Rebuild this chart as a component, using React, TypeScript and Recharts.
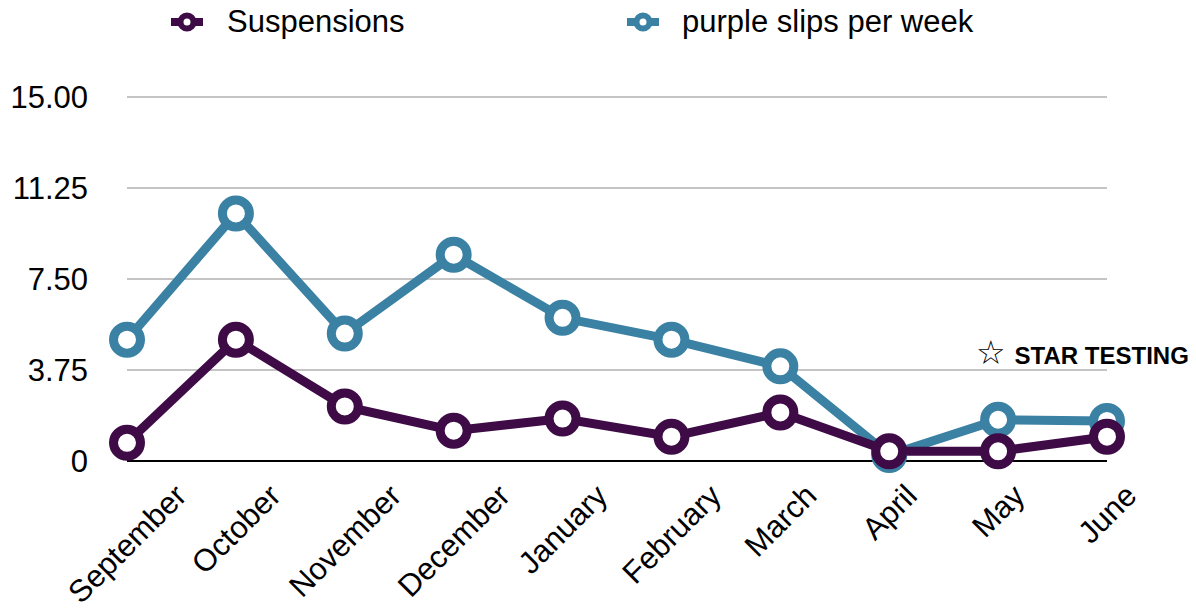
import React from 'react';
import { LineChart, Line, XAxis, YAxis, CartesianGrid } from 'recharts';

const months = ['September', 'October', 'November', 'December', 'January', 'February', 'March', 'April', 'May', 'June'];
const suspensions = [0.75, 5, 2.25, 1.25, 1.75, 1, 2, 0.4, 0.4, 1];
const purpleSlips = [5, 10.2, 5.25, 8.5, 5.9, 5, 3.9, 0.25, 1.7, 1.65];
const yTicks = [0, 3.75, 7.5, 11.25, 15];

const PURPLE = '#3E0B46';
const TEAL = '#3A81A3';
const FONT = "'Liberation Sans', Arial, Helvetica, sans-serif";

const chartData = months.map((m, i) => ({
  month: m,
  suspensions: suspensions[i],
  slips: purpleSlips[i],
}));

let ctx: CanvasRenderingContext2D | null = null;
const measure = (s: string) => {
  if (!ctx) ctx = document.createElement('canvas').getContext('2d');
  if (!ctx) return s.length * 16;
  ctx.font = `31px ${FONT}`;
  return ctx.measureText(s).width;
};

// rotated month labels, centred under each point
const MonthTick = ({ x, y, payload }: any) => {
  const w = measure(payload.value);
  const cy = y + 29 + w * 0.3535;
  return (
    <text
      x={x}
      y={cy}
      dy="0.35em"
      textAnchor="middle"
      fontSize={31}
      fontFamily={FONT}
      fill="#000"
      transform={`rotate(-45 ${x} ${cy})`}
    >
      {payload.value}
    </text>
  );
};

const ValueTick = ({ x, y, payload }: any) => (
  <text x={x} y={y} dy="0.355em" textAnchor="end" fontSize={31} fontFamily={FONT} fill="#000">
    {payload.value === 0 ? '0' : payload.value.toFixed(2)}
  </text>
);

const LegendMark = ({ color }: { color: string }) => (
  <svg width={36} height={26} style={{ display: 'block' }}>
    <line x1={2} y1={13} x2={34} y2={13} stroke={color} strokeWidth={8} />
    <circle cx={18} cy={13} r={6.5} fill="#fff" stroke={color} strokeWidth={6} />
  </svg>
);

const legendItems = [
  { label: 'Suspensions', color: PURPLE, mark: 169, text: 227 },
  { label: 'purple slips per week', color: TEAL, mark: 625, text: 682 },
];

export default function App() {
  return (
    <div style={{ position: 'absolute', left: 0, top: 0, width: 1196, height: 610, background: '#fff', fontFamily: FONT }}>
      {legendItems.map((it) => (
        <React.Fragment key={it.label}>
          <div style={{ position: 'absolute', left: it.mark, top: 9 }}>
            <LegendMark color={it.color} />
          </div>
          <div style={{ position: 'absolute', left: it.text, top: 4, fontSize: 31, lineHeight: '36px', color: '#000', whiteSpace: 'nowrap' }}>
            {it.label}
          </div>
        </React.Fragment>
      ))}

      <div style={{ position: 'absolute', left: 976, top: 335, whiteSpace: 'nowrap', display: 'flex', alignItems: 'baseline' }}>
        <span style={{ fontSize: 33, fontFamily: "'DejaVu Sans', sans-serif", marginRight: 9, lineHeight: '36px' }}>☆</span>
        <span style={{ fontSize: 24, fontWeight: 'bold', lineHeight: '36px' }}>STAR TESTING</span>
      </div>

      <LineChart
        width={1196}
        height={610}
        data={chartData}
        margin={{ top: 97, right: 89, bottom: 9, left: 0 }}
      >
        <CartesianGrid horizontal vertical={false} stroke="#c4c4c4" strokeWidth={2} />
        <XAxis
          dataKey="month"
          height={140}
          axisLine={{ stroke: '#000', strokeWidth: 2 }}
          tickLine={false}
          tickSize={0}
          tickMargin={0}
          interval={0}
          tick={<MonthTick />}
        />
        <YAxis
          width={127}
          domain={[0, 15]}
          ticks={yTicks}
          axisLine={false}
          tickLine={false}
          tickSize={0}
          tickMargin={39}
          tick={<ValueTick />}
        />
        <Line
          dataKey="slips"
          stroke={TEAL}
          strokeWidth={9}
          dot={{ r: 13.5, strokeWidth: 9, fill: '#fff', stroke: TEAL }}
          activeDot={false}
          isAnimationActive={false}
        />
        <Line
          dataKey="suspensions"
          stroke={PURPLE}
          strokeWidth={9}
          dot={{ r: 13.5, strokeWidth: 9, fill: '#fff', stroke: PURPLE }}
          activeDot={false}
          isAnimationActive={false}
        />
      </LineChart>
    </div>
  );
}
